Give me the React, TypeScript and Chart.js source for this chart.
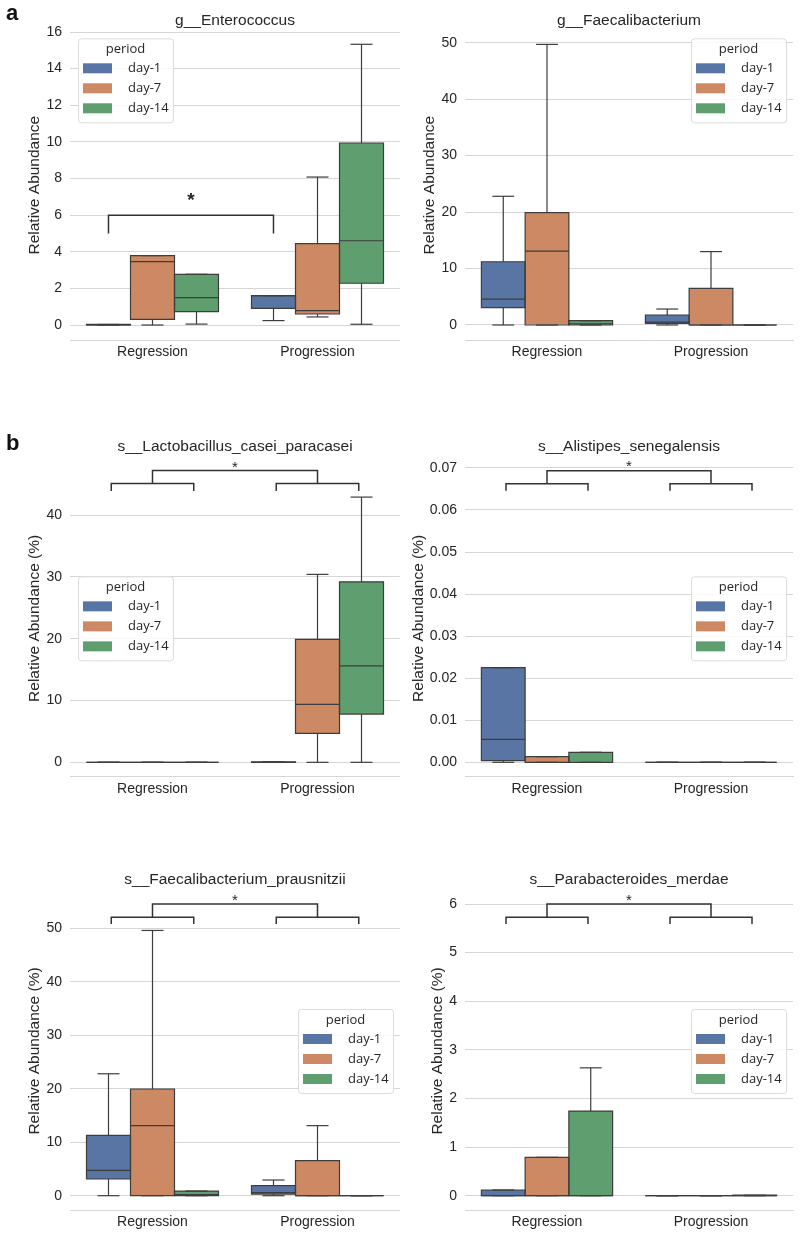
import React, { useEffect, useRef } from 'react';
import { Chart, registerables } from 'chart.js';

Chart.register(...registerables);

const FONT = "'Liberation Sans', Arial, sans-serif";
const LEGEND_FONT = "'Open Sans', 'Liberation Sans', sans-serif";
const TEXT = '#262626';
const GRID = '#d6d6d6';
const LINE = '#3d3d3d';

const CATEGORIES = ['Regression', 'Progression'];
const PERIODS = ['day-1', 'day-7', 'day-14'];
const COLORS = ['#5875a4', '#cc8963', '#5f9e6e'];

// each entry: [lower whisker, q1, median, q3, upper whisker] for Regression, Progression
const ENTERO_D1 = [[0, 0, 0, 0.03, 0.03], [0.24, 0.91, 1.6, 1.6, 1.6]];
const ENTERO_D7 = [[0, 0.31, 3.46, 3.79, 3.79], [0.44, 0.6, 0.78, 4.44, 8.08]];
const ENTERO_D14 = [[0.05, 0.73, 1.49, 2.77, 2.77], [0.04, 2.28, 4.6, 9.94, 15.33]];

const FAEC_D1 = [[0, 3.07, 4.6, 11.2, 22.8], [0, 0.3, 0.5, 1.77, 2.83]];
const FAEC_D7 = [[0, 0, 13.1, 19.9, 49.7], [0, 0, 0, 6.5, 13.0]];
const FAEC_D14 = [[0, 0, 0.2, 0.77, 0.77], [0, 0, 0, 0, 0]];

const LACTO_D1 = [[0, 0, 0, 0, 0], [0, 0, 0, 0.08, 0.08]];
const LACTO_D7 = [[0, 0, 0, 0, 0], [0, 4.69, 9.38, 19.9, 30.4]];
const LACTO_D14 = [[0, 0, 0, 0, 0], [0, 7.8, 15.6, 29.2, 42.9]];

const ALIS_D1 = [[0, 0.0004, 0.00547, 0.0225, 0.0225], [0, 0, 0, 0, 0]];
const ALIS_D7 = [[0, 0, 0, 0.00135, 0.00135], [0, 0, 0, 0, 0]];
const ALIS_D14 = [[0, 0, 0, 0.00238, 0.00238], [0, 0, 0, 0, 0]];

const PRAUS_D1 = [[0, 3.12, 4.74, 11.28, 22.8], [0, 0.3, 0.56, 1.87, 2.93]];
const PRAUS_D7 = [[0, 0, 13.1, 19.95, 49.6], [0, 0, 0, 6.55, 13.1]];
const PRAUS_D14 = [[0, 0, 0.2, 0.87, 0.87], [0, 0, 0, 0, 0]];

const PARA_D1 = [[0, 0, 0, 0.117, 0.117], [0, 0, 0, 0, 0]];
const PARA_D7 = [[0, 0, 0, 0.79, 0.79], [0, 0, 0, 0, 0]];
const PARA_D14 = [[0, 0, 0, 1.74, 2.63], [0, 0, 0, 0.01, 0.01]];

const ENTERO_TICKS = [0, 2, 4, 6, 8, 10, 12, 14, 16];
const FAEC_TICKS = [0, 10, 20, 30, 40, 50];
const LACTO_TICKS = [0, 10, 20, 30, 40];
const ALIS_TICKS = [0, 0.01, 0.02, 0.03, 0.04, 0.05, 0.06, 0.07];
const PRAUS_TICKS = [0, 10, 20, 30, 40, 50];
const PARA_TICKS = [0, 1, 2, 3, 4, 5, 6];

// significance brackets (data units)
const ENTERO_BRACKET = { main: 6.0, leg: 5.0, star: 7.1 };
const LACTO_BRACKET = { main: 47.2, sub: 45.1, leg: 43.9, star: 48.4 };
const ALIS_BRACKET = { main: 0.06933, sub: 0.06624, leg: 0.06457, star: 0.0712 };
const PRAUS_BRACKET = { main: 54.55, sub: 52.06, leg: 50.8, star: 55.9 };
const PARA_BRACKET = { main: 6.0, sub: 5.727, leg: 5.59, star: 6.15 };

const PANELS = [
  {
    id: 'a1', title: 'g__Enterococcus', yTitle: 'Relative Abundance',
    series: [ENTERO_D1, ENTERO_D7, ENTERO_D14], ticks: ENTERO_TICKS, min: -0.819, max: 16.093, decimals: 0,
    box: { left: 0, top: 0, w: 400, h: 380 }, area: { left: 70, right: 400, top: 30.3, bottom: 340 },
    titleY: 21, yTitleX: 35, legend: 'ul', bracketKind: 'single', bracket: ENTERO_BRACKET, starFont: 'bold 19px',
  },
  {
    id: 'a2', title: 'g__Faecalibacterium', yTitle: 'Relative Abundance',
    series: [FAEC_D1, FAEC_D7, FAEC_D14], ticks: FAEC_TICKS, min: -2.657, max: 52.196, decimals: 0,
    box: { left: 400, top: 0, w: 400, h: 380 }, area: { left: 465, right: 793, top: 30.3, bottom: 340 },
    titleY: 21, yTitleX: 429.5, legend: 'ur', bracketKind: 'none', bracket: null, starFont: '15px',
  },
  {
    id: 'b1', title: 's__Lactobacillus_casei_paracasei', yTitle: 'Relative Abundance (%)',
    series: [LACTO_D1, LACTO_D7, LACTO_D14], ticks: LACTO_TICKS, min: -2.329, max: 48.9, decimals: 0,
    box: { left: 0, top: 420, w: 400, h: 390 }, area: { left: 70, right: 400, top: 460, bottom: 776.7 },
    titleY: 447, yTitleX: 35, legend: 'cl', bracketKind: 'double', bracket: LACTO_BRACKET, starFont: '15px',
  },
  {
    id: 'b2', title: 's__Alistipes_senegalensis', yTitle: 'Relative Abundance (%)',
    series: [ALIS_D1, ALIS_D7, ALIS_D14], ticks: ALIS_TICKS, min: -0.003424, max: 0.07189, decimals: 2,
    box: { left: 400, top: 420, w: 400, h: 390 }, area: { left: 465, right: 793, top: 460, bottom: 776.7 },
    titleY: 447, yTitleX: 418.3, legend: 'cr', bracketKind: 'double', bracket: ALIS_BRACKET, starFont: '15px',
  },
  {
    id: 'b3', title: 's__Faecalibacterium_prausnitzii', yTitle: 'Relative Abundance (%)',
    series: [PRAUS_D1, PRAUS_D7, PRAUS_D14], ticks: PRAUS_TICKS, min: -2.674, max: 56.79, decimals: 0,
    box: { left: 0, top: 850, w: 400, h: 387 }, area: { left: 70, right: 400, top: 892, bottom: 1210 },
    titleY: 880, yTitleX: 35, legend: 'cr', bracketKind: 'double', bracket: PRAUS_BRACKET, starFont: '15px',
  },
  {
    id: 'b4', title: 's__Parabacteroides_merdae', yTitle: 'Relative Abundance (%)',
    series: [PARA_D1, PARA_D7, PARA_D14], ticks: PARA_TICKS, min: -0.294, max: 6.247, decimals: 0,
    box: { left: 400, top: 850, w: 400, h: 387 }, area: { left: 465, right: 793, top: 892, bottom: 1210 },
    titleY: 880, yTitleX: 437.7, legend: 'cr', bracketKind: 'double', bracket: PARA_BRACKET, starFont: '15px',
  },
];

function makeExtras(p: any) {
  return {
    id: 'extras_' + p.id,
    afterDatasetsDraw(chart: any) {
      const ctx = chart.ctx;
      const ys = chart.scales.y;
      const xs = chart.scales.x;
      const Y = (v: number) => ys.getPixelForValue(v);
      ctx.save();
      ctx.strokeStyle = LINE;
      ctx.lineWidth = 1.2;
      const seg = (x1: number, y1: number, x2: number, y2: number) => {
        ctx.beginPath();
        ctx.moveTo(x1, y1);
        ctx.lineTo(x2, y2);
        ctx.stroke();
      };
      chart.data.datasets.forEach((ds: any, di: number) => {
        const meta = chart.getDatasetMeta(di);
        meta.data.forEach((el: any, i: number) => {
          const s = ds.stats[i];
          const x = el.x;
          const w = el.width;
          const l = x - w / 2;
          const r = x + w / 2;
          const pLo = Y(s[0]), pQ1 = Y(s[1]), pMed = Y(s[2]), pQ3 = Y(s[3]), pHi = Y(s[4]);
          // whiskers
          if (pHi < pQ3) seg(x, pQ3, x, pHi);
          if (pLo > pQ1) seg(x, pQ1, x, pLo);
          seg(x - w / 4, pHi, x + w / 4, pHi);
          seg(x - w / 4, pLo, x + w / 4, pLo);
          // box outline
          ctx.beginPath();
          ctx.rect(l, pQ3, w, pQ1 - pQ3);
          ctx.stroke();
          // median
          seg(l, pMed, r, pMed);
        });
      });

      // brackets
      const b = p.bracket;
      if (b) {
        const catW = xs.getPixelForValue(1) - xs.getPixelForValue(0);
        const px = (c: number, off: number) => xs.getPixelForValue(c) + off * catW;
        ctx.strokeStyle = '#333333';
        ctx.lineWidth = 1.5;
        let starX = 0;
        if (p.bracketKind === 'single') {
          const x1 = px(0, -0.2667);
          const x2 = px(1, -0.2667);
          ctx.beginPath();
          ctx.moveTo(x1, Y(b.leg));
          ctx.lineTo(x1, Y(b.main));
          ctx.lineTo(x2, Y(b.main));
          ctx.lineTo(x2, Y(b.leg));
          ctx.stroke();
          starX = (x1 + x2) / 2;
        } else {
          for (let c = 0; c < CATEGORIES.length; c++) {
            ctx.beginPath();
            ctx.moveTo(px(c, -0.25), Y(b.leg));
            ctx.lineTo(px(c, -0.25), Y(b.sub));
            ctx.lineTo(px(c, 0.25), Y(b.sub));
            ctx.lineTo(px(c, 0.25), Y(b.leg));
            ctx.stroke();
          }
          ctx.beginPath();
          ctx.moveTo(px(0, 0), Y(b.sub));
          ctx.lineTo(px(0, 0), Y(b.main));
          ctx.lineTo(px(1, 0), Y(b.main));
          ctx.lineTo(px(1, 0), Y(b.sub));
          ctx.stroke();
          starX = (px(0, 0) + px(1, 0)) / 2;
        }
        const size = parseFloat(p.starFont.replace('bold ', ''));
        ctx.fillStyle = TEXT;
        ctx.font = p.starFont + ' ' + FONT;
        ctx.textAlign = 'center';
        ctx.textBaseline = 'alphabetic';
        ctx.fillText('*', starX, Y(b.star) + 0.57 * size);
      }
      ctx.restore();
    },
    afterDraw(chart: any) {
      const ctx = chart.ctx;
      const a = chart.chartArea;
      const FW = 95, FH = 84;
      let fx = a.left + 8;
      let fy = a.top + 8;
      if (p.legend === 'ur' || p.legend === 'cr') fx = a.right - 7 - FW;
      if (p.legend === 'cl' || p.legend === 'cr') fy = (a.top + a.bottom) / 2 - FH / 2;
      ctx.save();
      ctx.beginPath();
      if (ctx.roundRect) ctx.roundRect(fx + 0.5, fy + 0.5, FW, FH, 3);
      else ctx.rect(fx + 0.5, fy + 0.5, FW, FH);
      ctx.fillStyle = 'rgba(255,255,255,0.85)';
      ctx.fill();
      ctx.strokeStyle = '#dcdcdc';
      ctx.lineWidth = 1;
      ctx.stroke();
      ctx.fillStyle = TEXT;
      ctx.font = '13px ' + LEGEND_FONT;
      ctx.textAlign = 'center';
      ctx.textBaseline = 'middle';
      ctx.fillText('period', fx + FW / 2, fy + 11);
      PERIODS.forEach((name, k) => {
        ctx.fillStyle = COLORS[k];
        ctx.fillRect(fx + 5, fy + 25 + 20 * k, 29, 10);
        ctx.fillStyle = TEXT;
        ctx.textAlign = 'left';
        ctx.fillText(name, fx + 50, fy + 30 + 20 * k);
      });
      ctx.restore();
    },
  };
}

function Panel({ p }: { p: any }) {
  const ref = useRef<HTMLCanvasElement>(null);
  useEffect(() => {
    if (!ref.current) return;
    const box = p.box;
    const chartLeftRel = p.area.left - box.left;
    const padRight = box.left + box.w - p.area.right;
    const xHeight = box.top + box.h - p.area.bottom;
    const padTop = p.titleY - 9.3 - box.top;
    const titlePadBottom = Math.max(0, p.area.top - (p.titleY + 9.3));
    const yTitlePad = p.yTitleX - box.left - 9.3;
    const chart = new Chart(ref.current, {
      type: 'bar',
      data: {
        labels: CATEGORIES,
        datasets: p.series.map((s: number[][], k: number) => ({
          label: PERIODS[k],
          data: s.map((v) => [v[1], v[3]]),
          stats: s,
          backgroundColor: COLORS[k],
          borderWidth: 0,
          categoryPercentage: 0.8,
          barPercentage: 1.0,
        })),
      } as any,
      options: {
        responsive: false,
        animation: false,
        events: [],
        layout: { padding: { left: 0, right: padRight, top: padTop, bottom: 0 } },
        plugins: {
          legend: { display: false },
          tooltip: { enabled: false },
          title: {
            display: true,
            text: p.title,
            fullSize: false,
            color: TEXT,
            font: { family: FONT, size: 15.5, weight: 'normal', lineHeight: 1.2 },
            padding: { top: 0, bottom: titlePadBottom },
          },
        },
        scales: {
          x: {
            type: 'category',
            grid: { display: false, drawTicks: false },
            border: { display: true, color: GRID, width: 1 },
            ticks: { color: TEXT, font: { family: FONT, size: 14 }, padding: 4 },
            afterFit: (s: any) => { s.height = xHeight; },
          },
          y: {
            type: 'linear',
            min: p.min,
            max: p.max,
            afterBuildTicks: (s: any) => { s.ticks = p.ticks.map((v: number) => ({ value: v })); },
            grid: { color: GRID, drawTicks: false, lineWidth: 1 },
            border: { display: false },
            ticks: {
              color: TEXT,
              font: { family: FONT, size: 14 },
              padding: 8,
              callback: (v: any) => (p.decimals ? Number(v).toFixed(p.decimals) : String(v)),
            },
            title: {
              display: true,
              text: p.yTitle,
              color: TEXT,
              font: { family: FONT, size: 15.5, lineHeight: 1.2 },
              padding: { top: yTitlePad, bottom: 0 },
            },
            afterFit: (s: any) => { s.width = chartLeftRel; },
          },
        },
      } as any,
      plugins: [makeExtras(p)],
    });
    return () => chart.destroy();
  }, []);
  return (
    <canvas
      ref={ref}
      width={p.box.w}
      height={p.box.h}
      style={{ position: 'absolute', left: p.box.left, top: p.box.top, width: p.box.w, height: p.box.h, display: 'block' }}
    />
  );
}

export default function App() {
  return (
    <div style={{ position: 'absolute', left: 0, top: 0, width: 800, height: 1237, background: '#ffffff', overflow: 'hidden' }}>
      {PANELS.map((p) => (
        <Panel key={p.id} p={p} />
      ))}
      <div style={{ position: 'absolute', left: 6, top: 2, font: `bold 22px ${FONT}`, lineHeight: '22px', color: '#111' }}>a</div>
      <div style={{ position: 'absolute', left: 6, top: 432, font: `bold 22px ${FONT}`, lineHeight: '22px', color: '#111' }}>b</div>
    </div>
  );
}
